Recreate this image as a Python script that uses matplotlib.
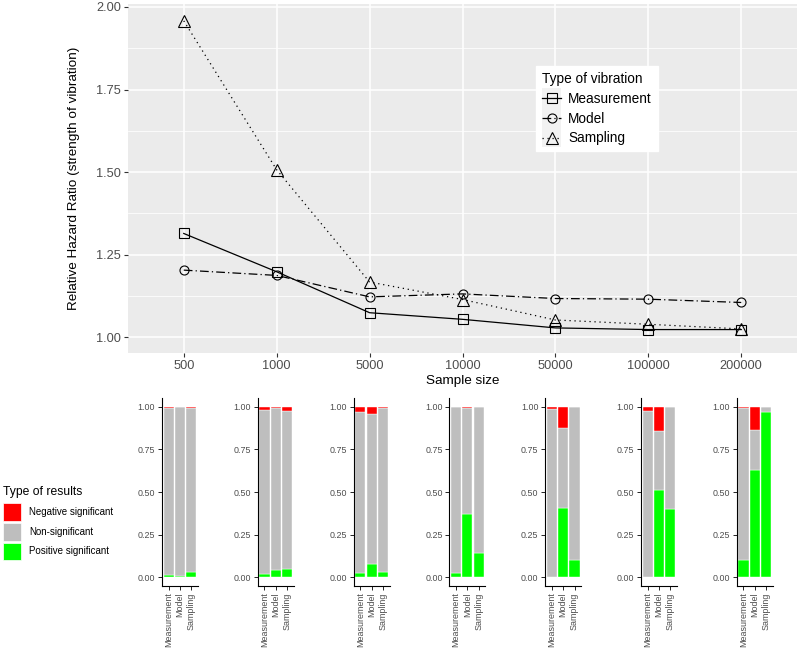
import matplotlib
matplotlib.use('Agg')
import matplotlib.pyplot as plt
from matplotlib.patches import Rectangle
from matplotlib.lines import Line2D
from matplotlib.legend_handler import HandlerLine2D
import numpy as np

plt.rcParams['font.family'] = ['Liberation Sans', 'DejaVu Sans']

# sample sizes (categories on the x axis)
sizes = ['500', '1000', '5000', '10000', '50000', '100000', '200000']
vib_types = ['Measurement', 'Model', 'Sampling']

# relative hazard ratio per type of vibration
rhr_measurement = [1.314, 1.198, 1.074, 1.054, 1.028, 1.023, 1.023]
rhr_model = [1.203, 1.187, 1.122, 1.131, 1.117, 1.115, 1.105]
rhr_sampling = [1.958, 1.507, 1.167, 1.114, 1.052, 1.039, 1.025]

# share of negative / positive significant results, per sample size
neg_measurement = [0.006, 0.021, 0.033, 0.000, 0.014, 0.023, 0.006]
neg_model = [0.002, 0.006, 0.043, 0.004, 0.125, 0.143, 0.135]
neg_sampling = [0.008, 0.027, 0.008, 0.000, 0.000, 0.000, 0.000]
pos_measurement = [0.014, 0.021, 0.029, 0.025, 0.001, 0.002, 0.100]
pos_model = [0.008, 0.045, 0.078, 0.371, 0.410, 0.514, 0.629]
pos_sampling = [0.031, 0.047, 0.033, 0.143, 0.100, 0.402, 0.967]

result_types = ['Negative significant', 'Non-significant', 'Positive significant']
result_colors = ['#FF0000', '#BEBEBE', '#00FF00']


class KeyWithBackground(HandlerLine2D):
    # ggplot style legend key: light grey square behind the line + marker
    def create_artists(self, legend, orig_handle, xdescent, ydescent,
                       width, height, fontsize, trans):
        arts = super().create_artists(legend, orig_handle, xdescent, ydescent,
                                      width, height, fontsize, trans)
        cy = height / 2 - ydescent
        bg = Rectangle((-xdescent, cy - 7), width, 14, facecolor='#F2F2F2',
                       edgecolor='none', transform=trans)
        return [bg] + list(arts)


W, H = 800, 649
fig = plt.figure(figsize=(W / 100, H / 100), dpi=100)

# ---- top panel (ggplot grey theme) ----
ax = fig.add_axes([128 / W, 1 - 353 / H, 669 / W, 349 / H])
ax.set_facecolor('#EBEBEB')
for s in ax.spines.values():
    s.set_visible(False)
x = np.arange(1, len(sizes) + 1)
ax.set_xlim(0.4, len(sizes) + 0.6)
ax.set_ylim(0.952, 2.009)
ax.set_yticks([1.0, 1.25, 1.5, 1.75, 2.0])
ax.set_yticklabels(['1.00', '1.25', '1.50', '1.75', '2.00'])
ax.set_yticks([1.125, 1.375, 1.625, 1.875], minor=True)
ax.set_xticks(x)
ax.set_xticklabels(sizes)
ax.grid(True, which='major', color='white', lw=1.1)
ax.grid(True, which='minor', axis='y', color='white', lw=0.55)
ax.set_axisbelow(True)
ax.tick_params(which='major', length=2.75, width=0.8, color='#333333',
               labelcolor='#4D4D4D', labelsize=9.2, pad=2.2)
ax.tick_params(which='minor', length=0)

ax.plot(x, rhr_measurement, color='black', lw=0.9, ls='-', marker='s',
        ms=6.5, mfc='none', mec='black', mew=0.8, label='Measurement')
ax.plot(x, rhr_model, color='black', lw=0.9, ls=(0, (7, 2.5, 1, 2.5)), marker='o',
        ms=6.5, mfc='none', mec='black', mew=0.8, label='Model')
ax.plot(x, rhr_sampling, color='black', lw=0.9, ls=(0, (1, 3)), marker='^',
        ms=8, mfc='none', mec='black', mew=0.8, label='Sampling')

ax.set_xlabel('Sample size', fontsize=9.7, labelpad=2)
ax.set_ylabel('Relative Hazard Ratio (strength of vibration)', fontsize=9.7, labelpad=12)

leg = ax.legend(title='Type of vibration', loc='upper left',
                bbox_to_anchor=(536 / W, 1 - 66 / H), bbox_transform=fig.transFigure,
                fontsize=9.8, title_fontsize=9.8, frameon=True, fancybox=False,
                edgecolor='white', facecolor='white', framealpha=1,
                handlelength=1.4, handletextpad=0.5, labelspacing=0.42,
                borderpad=0.45, borderaxespad=0,
                handler_map={Line2D: KeyWithBackground()})
leg._legend_box.align = 'left'

# ---- bottom panels (stacked shares, classic theme) ----
bx = np.arange(1, len(vib_types) + 1)
for i in range(len(sizes)):
    left = 161.9 + 95.8 * i
    bax = fig.add_axes([left / W, 1 - 586 / H, 36.2 / W, 187.7 / H])
    neg = np.array([neg_measurement[i], neg_model[i], neg_sampling[i]])
    pos = np.array([pos_measurement[i], pos_model[i], pos_sampling[i]])
    non = 1 - neg - pos
    bax.bar(bx, pos, width=0.9, color=result_colors[2], edgecolor='white', lw=0.3)
    bax.bar(bx, non, width=0.9, bottom=pos, color=result_colors[1], edgecolor='white', lw=0.3)
    bax.bar(bx, neg, width=0.9, bottom=pos + non, color=result_colors[0], edgecolor='white', lw=0.3)
    bax.set_xlim(0.4, 3.6)
    bax.set_ylim(-0.05, 1.05)
    bax.set_yticks([0, 0.25, 0.5, 0.75, 1.0])
    bax.set_yticklabels(['0.00', '0.25', '0.50', '0.75', '1.00'])
    bax.set_xticks(bx)
    bax.set_xticklabels(vib_types, rotation=90, fontsize=6.5)
    bax.spines['top'].set_visible(False)
    bax.spines['right'].set_visible(False)
    bax.spines['left'].set_linewidth(0.8)
    bax.spines['bottom'].set_linewidth(0.8)
    bax.tick_params(length=2.75, width=0.6, color='black', labelcolor='#4D4D4D',
                    labelsize=6.4, pad=2)

# ---- legend for the bottom panels ----
fig.text(3 / W, 1 - 495 / H, 'Type of results', fontsize=8.7, va='baseline', ha='left')
key_tops = [503.3, 523.0, 542.6]
for top, col, lab in zip(key_tops, result_colors, result_types):
    fig.add_artist(Rectangle((3.3 / W, 1 - (top + 17.5) / H), 17.7 / W, 17.5 / H,
                             facecolor=col, edgecolor='white', lw=0.5,
                             transform=fig.transFigure))
    fig.text(29 / W, 1 - (top + 8.9) / H, lab, fontsize=7, va='center', ha='left')

fig.savefig('out.png', dpi=100)
